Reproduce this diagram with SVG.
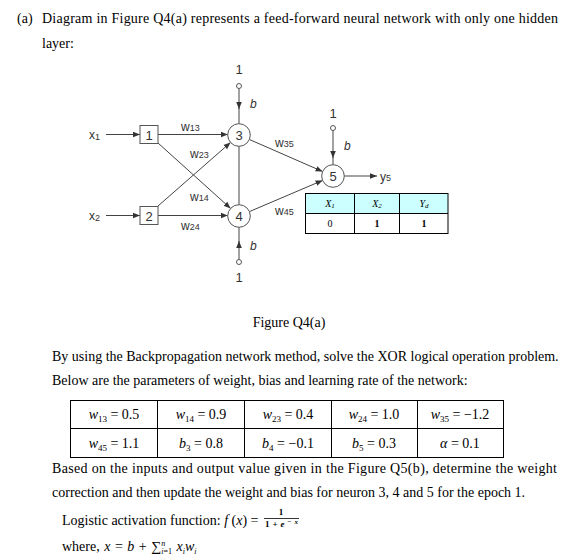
<svg xmlns="http://www.w3.org/2000/svg" width="563" height="560" viewBox="0 0 563 560">
<defs>
<style>
.t{font-family:"Liberation Serif","Times New Roman",serif;font-size:14px;fill:#000}
.f{font-family:"Liberation Serif","Times New Roman",serif;font-size:9px;fill:#000;text-anchor:middle}
.s{font-family:"Liberation Sans",Arial,sans-serif;font-size:12px;fill:#333}
.n{font-family:"Liberation Sans",Arial,sans-serif;font-size:13px;fill:#333;text-anchor:middle}
.i{font-style:italic}
.c{stroke:#444;stroke-width:1;fill:none}
.node{stroke:#555;stroke-width:1;fill:#fff}
.cell{stroke:#000;stroke-width:1;fill:none}
.ts{font-family:"Liberation Serif","Times New Roman",serif;font-size:10px;fill:#000;text-anchor:middle}
.tc{font-family:"Liberation Serif","Times New Roman",serif;font-size:14px;fill:#000;text-anchor:middle}
</style>
<marker id="ah" viewBox="0 0 10 10" refX="10" refY="5" markerWidth="7" markerHeight="7" markerUnits="userSpaceOnUse" orient="auto">
<path d="M0,1 L10,5 L0,9 z" fill="#333"/>
</marker>
</defs>
<rect width="563" height="560" fill="#fff"/>

<text class="t" x="17" y="23">(a)</text>
<text class="t" x="42" y="23" textLength="516" lengthAdjust="spacing">Diagram in Figure Q4(a) represents a feed-forward neural network with only one hidden</text>
<text class="t" x="42" y="48">layer:</text>

<g id="connectors">
<line class="c" x1="106" y1="134.5" x2="140" y2="134.5" marker-end="url(#ah)"/>
<line class="c" x1="106" y1="215.5" x2="140" y2="215.5" marker-end="url(#ah)"/>
<line class="c" x1="158" y1="134.5" x2="227.7" y2="134.5" marker-end="url(#ah)"/>
<line class="c" x1="158" y1="215.5" x2="227.7" y2="215.5" marker-end="url(#ah)"/>
<line class="c" x1="158" y1="143" x2="230.6" y2="208.4" marker-end="url(#ah)"/>
<line class="c" x1="158" y1="206" x2="230.5" y2="142.5" marker-end="url(#ah)"/>
<line class="c" x1="239" y1="146.3" x2="239" y2="204.7"/>
<line class="c" x1="249.4" y1="139.5" x2="322.6" y2="171.5" marker-end="url(#ah)"/>
<line class="c" x1="249.4" y1="211.6" x2="322.6" y2="180.4" marker-end="url(#ah)"/>
<line class="c" x1="344.3" y1="176" x2="377" y2="176" marker-end="url(#ah)"/>
<line class="c" x1="239" y1="88.5" x2="239" y2="109" marker-end="url(#ah)"/>
<line class="c" x1="239" y1="108" x2="239" y2="123.7"/>
<line class="c" x1="239" y1="259.5" x2="239" y2="241" marker-end="url(#ah)"/>
<line class="c" x1="239" y1="242" x2="239" y2="227.3"/>
<line class="c" x1="333" y1="130.5" x2="333" y2="158" marker-end="url(#ah)"/>
<line class="c" x1="333" y1="157" x2="333" y2="164.7"/>
<circle class="node" cx="239" cy="86" r="2.5"/>
<circle class="node" cx="239" cy="262" r="2.5"/>
<circle class="node" cx="333" cy="128" r="2.5"/>
</g>

<g id="labels">
<text class="n" x="239" y="74">1</text>
<text class="s i" x="250" y="108">b</text>
<text class="s i" x="250" y="250">b</text>
<text class="n" x="239" y="282">1</text>
<text class="n" x="333" y="118">1</text>
<text class="s i" x="344" y="150">b</text>
<text class="s" x="89" y="139">x<tspan font-size="9" dy="1">1</tspan></text>
<text class="s" x="89" y="220">x<tspan font-size="9" dy="1">2</tspan></text>
<text class="s" x="181" y="131">w<tspan font-size="9">13</tspan></text>
<text class="s" x="190" y="158">w<tspan font-size="9">23</tspan></text>
<text class="s" x="190" y="201">w<tspan font-size="9">14</tspan></text>
<text class="s" x="181" y="230">w<tspan font-size="9">24</tspan></text>
<text class="s" x="275" y="147">w<tspan font-size="9">35</tspan></text>
<text class="s" x="275" y="215">w<tspan font-size="9">45</tspan></text>
<text class="s" x="380" y="181">y<tspan font-size="9">5</tspan></text>
</g>

<g id="node1"><rect class="node" x="140" y="125.5" width="18" height="18"/><text class="n" x="149" y="139.5">1</text></g>
<g id="node2"><rect class="node" x="140" y="206.5" width="18" height="18"/><text class="n" x="149" y="220.5">2</text></g>
<g id="node3"><circle class="node" cx="239" cy="135" r="11.3"/><text class="n" x="239" y="140">3</text></g>
<g id="node4"><circle class="node" cx="239" cy="216" r="11.3"/><text class="n" x="239" y="221">4</text></g>
<g id="node5"><circle class="node" cx="333" cy="176" r="11.3"/><text class="n" x="333" y="181">5</text></g>

<g id="xor-table">
<rect x="305" y="193" width="143" height="20" fill="#ccffff"/>
<rect class="cell" x="305.5" y="193.5" width="142.5" height="40" stroke="#444"/>
<line class="cell" x1="305.5" y1="213.5" x2="448" y2="213.5" stroke="#444"/>
<line class="cell" x1="354.5" y1="193.5" x2="354.5" y2="233.5" stroke="#444"/>
<line class="cell" x1="399.5" y1="193.5" x2="399.5" y2="233.5" stroke="#444"/>
<text class="ts i" x="330" y="207">X<tspan font-size="7" dy="1">1</tspan></text>
<text class="ts i" x="377" y="207">X<tspan font-size="7" dy="1">2</tspan></text>
<text class="ts i" x="424" y="207">Y<tspan font-size="7" dy="1">d</tspan></text>
<text class="ts" x="330" y="227">0</text>
<text class="ts" x="377" y="227" font-weight="bold">1</text>
<text class="ts" x="424" y="227" font-weight="bold">1</text>
</g>

<text class="t" x="289" y="327" text-anchor="middle">Figure Q4(a)</text>
<text class="t" x="52" y="361">By using the Backpropagation network method, solve the XOR logical operation problem.</text>
<text class="t" x="52" y="385">Below are the parameters of weight, bias and learning rate of the network:</text>

<g id="param-table">
<rect class="cell" x="70.5" y="400.5" width="433" height="57"/>
<line class="cell" x1="70.5" y1="428.5" x2="503.5" y2="428.5"/>
<line class="cell" x1="157.5" y1="400.5" x2="157.5" y2="457.5"/>
<line class="cell" x1="244.5" y1="400.5" x2="244.5" y2="457.5"/>
<line class="cell" x1="331.5" y1="400.5" x2="331.5" y2="457.5"/>
<line class="cell" x1="417.5" y1="400.5" x2="417.5" y2="457.5"/>
<text class="tc" x="114" y="419"><tspan class="i">w</tspan><tspan font-size="9" dy="3">13</tspan><tspan dy="-3"> = 0.5</tspan></text>
<text class="tc" x="201" y="419"><tspan class="i">w</tspan><tspan font-size="9" dy="3">14</tspan><tspan dy="-3"> = 0.9</tspan></text>
<text class="tc" x="288" y="419"><tspan class="i">w</tspan><tspan font-size="9" dy="3">23</tspan><tspan dy="-3"> = 0.4</tspan></text>
<text class="tc" x="374" y="419"><tspan class="i">w</tspan><tspan font-size="9" dy="3">24</tspan><tspan dy="-3"> = 1.0</tspan></text>
<text class="tc" x="460" y="419"><tspan class="i">w</tspan><tspan font-size="9" dy="3">35</tspan><tspan dy="-3"> = −1.2</tspan></text>
<text class="tc" x="114" y="448"><tspan class="i">w</tspan><tspan font-size="9" dy="3">45</tspan><tspan dy="-3"> = 1.1</tspan></text>
<text class="tc" x="201" y="448"><tspan class="i">b</tspan><tspan font-size="9" dy="3">3</tspan><tspan dy="-3"> = 0.8</tspan></text>
<text class="tc" x="288" y="448"><tspan class="i">b</tspan><tspan font-size="9" dy="3">4</tspan><tspan dy="-3"> = −0.1</tspan></text>
<text class="tc" x="374" y="448"><tspan class="i">b</tspan><tspan font-size="9" dy="3">5</tspan><tspan dy="-3"> = 0.3</tspan></text>
<text class="tc" x="460" y="448"><tspan class="i">α</tspan> = 0.1</text>
</g>

<text class="t" x="52" y="473" textLength="505" lengthAdjust="spacing">Based on the inputs and output value given in the Figure Q5(b), determine the weight</text>
<text class="t" x="52" y="497">correction and then update the weight and bias for neuron 3, 4 and 5 for the epoch 1.</text>
<text class="t" x="62" y="525">Logistic activation function: <tspan class="i">f</tspan> (<tspan class="i">x</tspan>) =</text>
<text class="f" x="281" y="515" font-weight="bold">1</text>
<line x1="264" y1="518.5" x2="299" y2="518.5" stroke="#000" stroke-width="0.8"/>
<text class="f" x="265" y="527" style="text-anchor:start" font-weight="bold" textLength="33" lengthAdjust="spacing">1+<tspan class="i">e</tspan><tspan font-size="7" dy="-3">−<tspan class="i">x</tspan></tspan></text>
<text class="t" x="62" y="551" word-spacing="1">where, <tspan class="i">x</tspan> = <tspan class="i">b</tspan> + ∑<tspan font-size="8" dy="-5" class="i">n</tspan><tspan font-size="8" dx="-4" dy="8"><tspan class="i">i</tspan>=1</tspan><tspan dy="-3"> </tspan><tspan class="i">x</tspan><tspan font-size="8" dy="3" class="i">i</tspan><tspan dy="-3" class="i">w</tspan><tspan font-size="8" dy="3" class="i">i</tspan></text>
</svg>
